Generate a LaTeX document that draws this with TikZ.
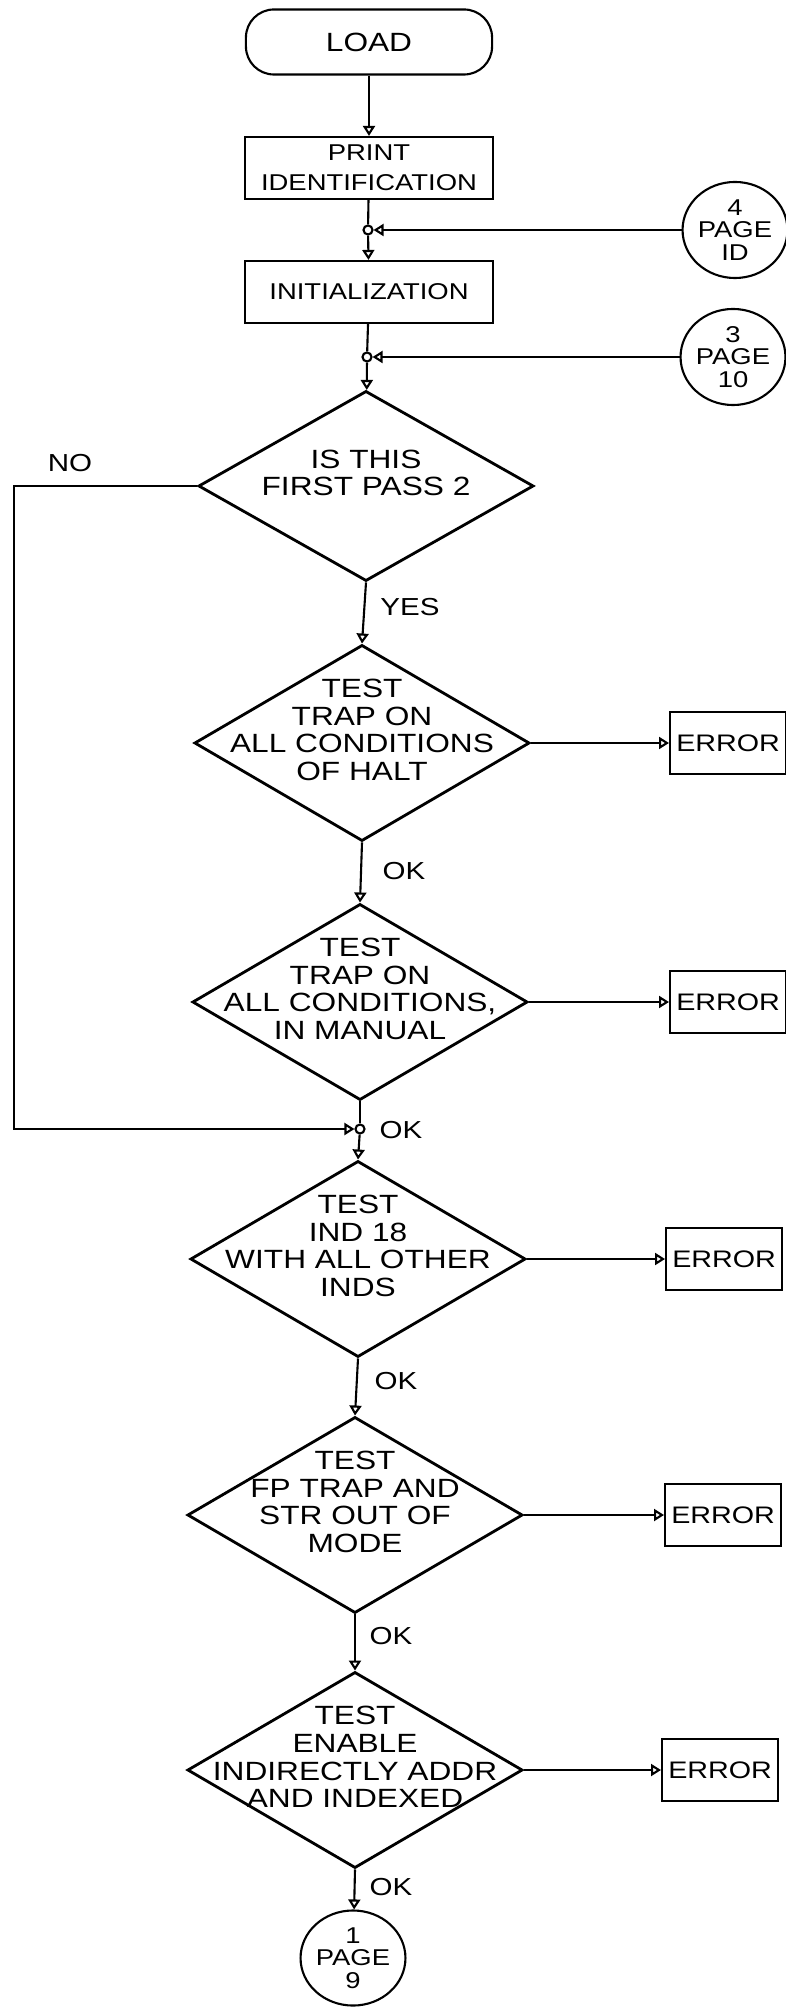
\documentclass[tikz,border=0pt]{standalone}
\usepackage{fontspec}
\setmainfont{Liberation Sans}[FakeStretch=1.2]
\usetikzlibrary{shapes.geometric,arrows.meta}
\begin{document}
\begin{tikzpicture}[x=0.01cm,y=-0.01cm,line width=0.6pt,
    flow/.style={-{Triangle[open,length=0.1cm,width=0.12cm]}},
    term/.style={draw,rounded corners=0.28cm,minimum width=2.46cm,minimum height=0.65cm,inner sep=0pt,font=\fontsize{7.5}{8}\selectfont},
    proc/.style={draw,minimum width=2.47cm,minimum height=0.62cm,inner sep=0pt,align=center,font=\fontsize{6.5}{8.5}\selectfont},
    dec/.style={draw,diamond,line width=0.8pt,minimum width=3.35cm,minimum height=1.96cm,inner sep=0pt},
    dtext/.style={align=center,yshift=0.13cm,font=\fontsize{7.5}{7.9}\selectfont},
    err/.style={draw,anchor=west,minimum width=1.16cm,minimum height=0.62cm,inner sep=0pt,font=\fontsize{6.8}{8}\selectfont},
    conn/.style={draw,ellipse,minimum width=0.94cm,minimum height=0.96cm,inner sep=0pt,align=center,font=\fontsize{6.5}{6.4}\selectfont},
    jn/.style={draw,circle,minimum size=0.09cm,inner sep=0pt},
    lbl/.style={font=\fontsize{7}{8}\selectfont}]
  \useasboundingbox (0,0) rectangle (785,2007);
  \node[term] (L) at (369,42) {LOAD};
  \node[proc] (P) at (369,168) {PRINT\\IDENTIFICATION};
  \node[jn] (J1) at (368,230) {};
  \node[conn] (C4) at (735,230) {4\\PAGE\\ID};
  \node[proc] (I) at (369,292) {INITIALIZATION};
  \node[jn] (J2) at (367,357) {};
  \node[conn] (C3) at (733,357) {3\\PAGE\\10};
  \node[dec,minimum height=1.9cm,label={[dtext]center:IS THIS\\FIRST PASS 2}] (D1) at (366,486) {};
  \node[dec,label={[dtext]center:TEST\\TRAP ON\\ALL CONDITIONS\\OF HALT}] (D2) at (362,743) {};
  \node[err] (E1) at (669,743) {ERROR};
  \node[dec,label={[dtext]center:{TEST\\TRAP ON\\ALL CONDITIONS,\\IN MANUAL}}] (D3) at (360,1002) {};
  \node[err] (E2) at (669,1002) {ERROR};
  \node[jn] (J3) at (360,1129) {};
  \node[dec,label={[dtext]center:TEST\\IND 18\\WITH ALL OTHER\\INDS}] (D4) at (358,1259) {};
  \node[err] (E3) at (665,1259) {ERROR};
  \node[dec,label={[dtext]center:TEST\\FP TRAP AND\\STR OUT OF\\MODE}] (D5) at (355,1515) {};
  \node[err] (E4) at (664,1515) {ERROR};
  \node[dec,label={[dtext]center:TEST\\ENABLE\\INDIRECTLY ADDR\\AND INDEXED}] (D6) at (355,1770) {};
  \node[err] (E5) at (661,1770) {ERROR};
  \node[conn,minimum width=0.97cm,minimum height=0.95cm] (C1) at (353,1958) {1\\PAGE\\9};
  \coordinate (NW) at (14,486);
  \coordinate (SW) at (14,1129);
  \node[lbl] (no) at (70,463) {NO};
  \node[lbl] (yes) at (410,607) {YES};
  \node[lbl] (ok1) at (404,871) {OK};
  \node[lbl] (ok2) at (401,1130) {OK};
  \node[lbl] (ok3) at (396,1381) {OK};
  \node[lbl] (ok4) at (391,1636) {OK};
  \node[lbl] (ok5) at (391,1887) {OK};
  \draw[flow] (L) -- (P);
  \draw (P) -- (J1);
  \draw[flow] (J1) -- (I);
  \draw[flow] (C4) -- (J1);
  \draw (I) -- (J2);
  \draw[flow] (J2) -- (D1);
  \draw[flow] (C3) -- (J2);
  \draw[flow] (D1.west) -- (NW) -- (SW) -- (J3);
  \draw[flow] (D1.south) -- (D2.north);
  \draw[flow] (D2.east) -- (E1);
  \draw[flow] (D2.south) -- (D3.north);
  \draw[flow] (D3.east) -- (E2);
  \draw (D3.south) -- (J3);
  \draw[flow] (J3) -- (D4.north);
  \draw[flow] (D4.east) -- (E3);
  \draw[flow] (D4.south) -- (D5.north);
  \draw[flow] (D5.east) -- (E4);
  \draw[flow] (D5.south) -- (D6.north);
  \draw[flow] (D6.east) -- (E5);
  \draw[flow] (D6.south) -- (C1);
\end{tikzpicture}
\end{document}
